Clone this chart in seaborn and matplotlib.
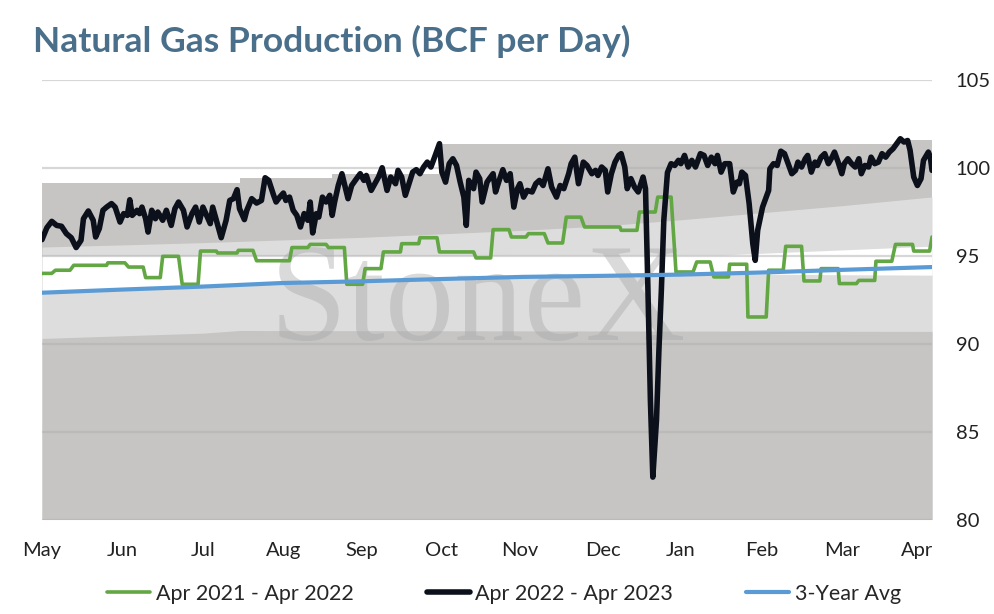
import numpy as np
import pandas as pd
import seaborn as sns
import matplotlib.pyplot as plt

# x is in days from the start of May
month_labels = ['May', 'Jun', 'Jul', 'Aug', 'Sep', 'Oct', 'Nov', 'Dec', 'Jan', 'Feb', 'Mar', 'Apr']
month_days = [0, 33, 66, 99, 131, 164, 196, 230, 262, 295, 328, 359]

# Apr 2022 - Apr 2023 (black)
cur_days = [0, 2, 4, 6, 8, 10, 12, 14, 16, 17, 19, 21, 22, 23.5, 25, 26.5, 28.5, 30, 32, 33.5,
            35, 36, 37, 39, 40, 41, 42.5, 43.5, 45, 46.5, 47.5, 49.5, 51, 53, 54.5, 56, 58, 59.5,
            61.5, 63, 64.5, 66, 67.5, 69, 70, 71.5, 73.5, 75.5, 77, 78.5, 80, 81, 83, 84, 86, 88,
            90, 91.5, 93, 95, 96, 97.5, 99, 100, 101.5, 103, 104.5, 106, 107.5, 109, 110, 111,
            112.5, 113.5, 115, 116.5, 118, 119, 120, 121.5, 123, 124, 125.5, 127, 129, 130.5, 132,
            133, 135, 136.5, 138, 139.5, 141.5, 143, 145, 146, 147.5, 149, 150.5, 152, 153.5, 155,
            156.5, 158, 159.5, 161, 163, 164, 165.5, 167, 168.5, 170, 171.5, 173, 174, 175, 177,
            178, 179.5, 180.5, 182.5, 183.5, 185, 186, 187.5, 189, 190.5, 192, 193.5, 195, 196,
            197.5, 199, 201, 202.5, 204, 205.5, 207.5, 209, 211, 212.5, 214, 216, 217, 218.5, 220,
            222, 223.5, 225.5, 227, 228, 229.5, 231, 232, 233.5, 235, 236.5, 237.5, 239, 240,
            241.5, 243, 244.5, 246.5, 247.5, 248.5, 249.5, 250.5, 252, 253, 254, 255, 256.5, 258,
            259.5, 261, 262, 263.5, 265, 266.5, 268, 270, 271.5, 273, 274.5, 276, 277, 278.5, 280,
            282, 283.5, 285, 286, 287, 288.5, 290, 291.5, 292.5, 293.5, 295.5, 298, 298.5, 300,
            301.5, 303, 304.5, 306, 307.5, 309, 310, 311.5, 313, 314, 315.5, 317, 318, 319.5, 321,
            322.5, 324, 325, 326.5, 328, 329, 330.5, 332, 333.5, 335, 336, 337.5, 339, 340, 341.5,
            343, 344.5, 346, 347.5, 349, 350.5, 352, 353.5, 355, 356, 357.5, 359, 360.5, 361.5,
            363.5, 364.3, 365]
cur_vals = [95.92, 96.6, 96.96, 96.73, 96.68, 96.26, 96.03, 95.47, 95.88, 97.11, 97.55, 97.02,
            96.07, 96.55, 97.59, 97.77, 97.97, 97.77, 96.92, 97.4, 97.3, 98.19, 97.3, 97.59, 97.4,
            97.77, 97.11, 96.35, 97.59, 97.11, 97.49, 97.02, 97.59, 96.73, 97.68, 98.06, 97.59,
            96.64, 97.4, 97.77, 96.92, 97.77, 97.3, 96.83, 97.77, 97.02, 96.03, 97.02, 98.15,
            98.25, 98.76, 97.68, 97.06, 97.59, 98.25, 98.0, 98.15, 99.44, 99.29, 98.44, 98.06,
            98.34, 98.57, 98.15, 98.34, 97.59, 97.3, 96.64, 97.4, 97.02, 98.06, 96.3, 97.4, 97.2,
            98.34, 98.06, 98.44, 97.3, 98.06, 99.0, 99.67, 99.1, 98.25, 99.0, 99.39, 99.67, 99.29,
            99.57, 98.72, 99.1, 99.48, 100.01, 98.72, 99.48, 99.1, 99.86, 99.48, 98.44, 99.1,
            99.76, 99.9, 99.67, 100.05, 100.33, 100.05, 100.61, 101.38, 99.76, 99.19, 100.24,
            100.52, 100.14, 99.19, 98.34, 96.73, 99.29, 98.82, 99.76, 99.39, 98.06, 99.19, 99.39,
            99.67, 98.63, 99.29, 99.9, 99.29, 99.67, 97.77, 98.82, 99.1, 98.34, 98.72, 98.63, 99.1,
            99.29, 99.0, 99.95, 98.91, 98.34, 99.0, 98.82, 99.67, 100.24, 100.61, 99.1, 100.33,
            100.14, 99.67, 99.86, 99.57, 100.05, 99.86, 98.63, 99.67, 100.33, 100.71, 100.81,
            100.05, 98.82, 99.39, 98.91, 98.63, 99.48, 98.82, 93.04, 86.79, 82.41, 85.65, 89.63,
            93.04, 97.02, 99.74, 100.24, 100.14, 100.43, 100.24, 100.71, 100.05, 100.43, 100.05,
            100.81, 100.71, 100.14, 100.61, 100.24, 100.71, 99.76, 100.24, 100.24, 98.63, 99.19,
            99.1, 99.76, 99.57, 97.97, 95.69, 94.74, 96.45, 97.77, 98.72, 99.95, 100.24, 100.14,
            100.95, 100.81, 100.24, 99.67, 99.86, 100.33, 100.05, 100.52, 100.71, 99.76, 100.33,
            100.14, 100.61, 100.81, 100.24, 100.61, 100.9, 100.33, 99.67, 100.24, 100.52, 100.24,
            100.05, 100.52, 99.67, 100.14, 100.05, 100.61, 100.24, 100.33, 100.81, 100.61, 100.9,
            101.09, 101.38, 101.66, 101.47, 101.56, 101.0, 99.48, 99.0, 99.39, 100.43, 100.9,
            100.61, 99.86]

# Apr 2021 - Apr 2022 (green), step levels
prev_days = [0, 4, 5.5, 11.5, 13, 26.5, 27, 34, 35.5, 41.5, 42.5, 48.5, 49.5, 56, 57.5, 64,
             65, 71.5, 72, 80, 80.5, 86.5, 88, 101.5, 102.5, 109, 110, 116.5, 117.5, 124, 125,
             131.5, 132.5, 139, 140, 147, 147.5, 154.5, 155, 162, 163, 177, 178, 184, 185, 191.5,
             192.5, 198.5, 199.5, 206, 207.5, 213.5, 215, 221, 222.5, 237, 237.5, 244, 245, 251.5,
             252.5, 258, 260, 267, 268.5, 274, 275.5, 281.5, 282, 289, 289.5, 297, 298, 304, 305,
             311.5, 312.5, 319, 319.5, 326.5, 327, 334, 335, 341.5, 342, 348.5, 350, 357, 357.5,
             364, 365]
prev_vals = [94.0, 94.0, 94.18, 94.18, 94.46, 94.46, 94.6, 94.6, 94.36, 94.36, 93.76, 93.76,
             94.97, 94.97, 93.38, 93.38, 95.27, 95.27, 95.16, 95.16, 95.31, 95.31, 94.72, 94.72,
             95.47, 95.47, 95.65, 95.65, 95.47, 95.47, 93.38, 93.38, 94.27, 94.27, 95.22, 95.22,
             95.69, 95.69, 96.03, 96.03, 95.22, 95.22, 94.88, 94.88, 96.49, 96.49, 96.07, 96.07,
             96.26, 96.26, 95.73, 95.73, 97.2, 97.2, 96.64, 96.64, 96.45, 96.45, 97.49, 97.49,
             98.34, 98.34, 94.08, 94.08, 94.65, 94.65, 93.8, 93.8, 94.52, 94.52, 91.52, 91.52,
             94.18, 94.18, 95.54, 95.54, 93.57, 93.57, 94.27, 94.27, 93.42, 93.42, 93.6, 93.6,
             94.69, 94.69, 95.65, 95.65, 95.27, 95.27, 96.07]

# 3-Year Avg (blue)
avg_days = [0, 33, 66, 98, 131, 164, 197, 230, 262, 295, 328, 365]
avg_vals = [92.9, 93.08, 93.25, 93.45, 93.55, 93.68, 93.8, 93.86, 93.93, 94.05, 94.2, 94.36]

# shaded range bands (drawn as overlapping areas from 80)
band_max_days = [0, 81, 81, 119, 119, 163, 163, 352, 352, 365]
band_max_vals = [99.15, 99.15, 99.4, 99.4, 99.65, 99.65, 101.35, 101.35, 101.6, 101.6]
band_hi_days = [0, 33, 66, 98, 131, 164, 197, 230, 262, 295, 328, 365]
band_hi_vals = [95.5, 95.62, 95.75, 95.9, 96.05, 96.25, 96.45, 96.7, 97.05, 97.45, 97.85, 98.35]
band_mid_days = [0, 279, 365]
band_mid_vals = [95.0, 95.05, 95.55]
band_lo_days = [0, 33, 66, 98, 131, 164, 197, 230, 262, 279, 320, 365]
band_lo_vals = [92.9, 93.08, 93.25, 93.45, 93.55, 93.68, 93.8, 93.86, 93.93, 93.98, 93.93, 93.9]
band_min_days = [0, 33, 66, 81, 365]
band_min_vals = [90.3, 90.45, 90.6, 90.75, 90.7]

sns.set_style('white')
plt.rcParams['font.family'] = ['Lato', 'DejaVu Sans']

fig = plt.figure(figsize=(9.94, 6.14), dpi=100)
ax = fig.add_axes([0.04225, 0.1539, 0.8954, 0.7158])

dark = '#c6c5c4'
light = '#dddddd'
ax.fill_between(band_max_days, 80, band_max_vals, color=dark, lw=0, zorder=1)
ax.fill_between(band_hi_days, 80, band_hi_vals, color=light, lw=0, zorder=1.1)
ax.fill_between(band_mid_days, 80, band_mid_vals, color='white', lw=0, zorder=1.2)
ax.fill_between(band_lo_days, 80, band_lo_vals, color=light, lw=0, zorder=1.3)
ax.fill_between(band_min_days, 80, band_min_vals, color=dark, lw=0, zorder=1.4)

for yv in [80, 85, 90, 95, 100, 105]:
    ax.axhline(yv, color='#b0b0b0', alpha=0.5, lw=1.6, zorder=1.5)

# watermark
ax.text(179, 90.2, 'StoneX', family='Liberation Serif', fontsize=100, color='#a8a8a8',
        alpha=0.42, ha='center', va='baseline', zorder=1.6)

prev = pd.DataFrame({'day': prev_days, 'val': prev_vals})
cur = pd.DataFrame({'day': cur_days, 'val': cur_vals})
avg = pd.DataFrame({'day': avg_days, 'val': avg_vals})

sns.lineplot(data=prev, x='day', y='val', ax=ax, color='#62a744', lw=2.6, sort=False,
             label='Apr 2021 - Apr 2022', zorder=3)
sns.lineplot(data=cur, x='day', y='val', ax=ax, color='#0b101b', lw=4.0, sort=False,
             label='Apr 2022 - Apr 2023', zorder=4)
sns.lineplot(data=avg, x='day', y='val', ax=ax, color='#5b9bd5', lw=3.0, sort=False,
             label='3-Year Avg', zorder=5)

ax.set_xlim(0, 365)
ax.set_ylim(80, 105)
ax.set_xticks(month_days)
ax.set_xticklabels(month_labels)
ax.set_yticks([80, 85, 90, 95, 100, 105])
ax.yaxis.tick_right()
ax.tick_params(axis='both', length=0, labelsize=14.5, colors='#222222')
ax.tick_params(axis='y', pad=17)
ax.tick_params(axis='x', pad=16)
ax.set_xlabel('')
ax.set_ylabel('')
for s in ax.spines.values():
    s.set_visible(False)
ax.grid(False)

handles, labels = ax.get_legend_handles_labels()
ax.get_legend().remove()
fig.legend(handles, labels, loc='center', bbox_to_anchor=(0.507, 0.033), ncol=3,
           frameon=False, fontsize=15.5, handlelength=2.0, handletextpad=0.25,
           columnspacing=3.4)

fig.text(0.033, 0.932, 'Natural Gas Production (BCF per Day)', fontsize=25.5,
         fontweight='bold', color='#4a6f8a', ha='left', va='center')

fig.savefig('out.png', dpi=100)
